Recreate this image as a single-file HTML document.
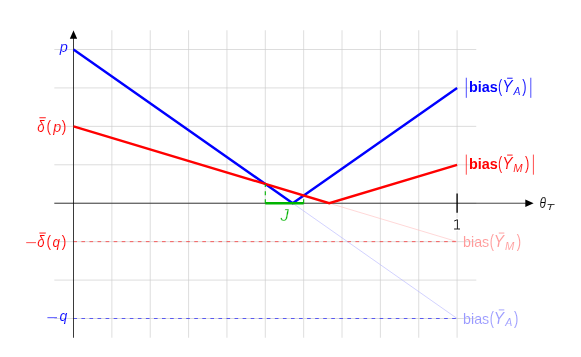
<!DOCTYPE html>
<html><head><meta charset="utf-8"><title>bias plot</title>
<style>
html,body{margin:0;padding:0;background:#fff;}
body{width:581px;height:357px;overflow:hidden;font-family:"Liberation Sans",sans-serif;}
svg{display:block;will-change:transform;transform:translateZ(0);}
text{font-family:"Liberation Sans",sans-serif;}
.it{font-style:italic;}
.b{font-weight:bold;}
</style></head><body>
<svg width="581" height="357" viewBox="0 0 581 357">
<rect width="581" height="357" fill="#ffffff"/>
<path d="M73.5 30.28V337.73M111.86 30.28V337.73M150.22 30.28V337.73M188.58 30.28V337.73M226.94 30.28V337.73M265.3 30.28V337.73M303.66 30.28V337.73M342.02 30.28V337.73M380.38 30.28V337.73M418.74 30.28V337.73M457.1 30.28V337.73M54.32 318.51H476.28M54.32 280.08H476.28M54.32 241.65H476.28M54.32 203.22H476.28M54.32 164.79H476.28M54.32 126.36H476.28M54.32 87.93H476.28M54.32 49.5H476.28" stroke="#cdcdcd" stroke-width="0.68" fill="none"/>
<path d="M329.23 203.22L457.1 241.65" stroke="#ffbdbd" stroke-width="0.6" fill="none"/>
<path d="M292.7 203.22L457.1 318.51" stroke="#b3b3ff" stroke-width="0.6" fill="none"/>
<path d="M73.35 241.65H457.1" stroke="#ff0000" stroke-width="0.6" stroke-dasharray="3.65 4.41" fill="none"/>
<path d="M73.35 318.51H457.1" stroke="#0000ff" stroke-width="0.6" stroke-dasharray="3.65 4.41" fill="none"/>
<path d="M54.32 203.22H527.82M73.5 337.73V36.28" stroke="#000" stroke-width="0.74" fill="none"/>
<path d="M533.62 203.22l-8.3 -3.7v7.4z M73.5 30.38l-3.7 8.3h7.4z" fill="#000"/>
<path d="M457.1 193.61V212.83" stroke="#000" stroke-width="1.35" fill="none"/>
<path d="M73.5 49.5L292.7 203.22L457.1 87.93" stroke="#0000ff" stroke-width="2.4" stroke-linejoin="round" fill="none"/>
<path d="M73.5 126.36L329.23 203.22L457.1 164.79" stroke="#ff0000" stroke-width="2.4" stroke-linejoin="miter" fill="none"/>
<path d="M265.3 203.22V184.0M303.66 203.22V195.53" stroke="#00b300" stroke-width="1.1" stroke-dasharray="4.03 4.03" fill="none"/>
<path d="M265.3 203.22H303.66" stroke="#00b300" stroke-width="2.4" fill="none"/>
<text class="it" transform="translate(59.66 51.78) scale(1.013 1)" font-size="14.36" fill="#0000ff" stroke="#fff" stroke-width="0.12">p</text>
<text class="it" transform="translate(37.34 131.95) scale(0.818 1)" font-size="16.15" fill="#ff0000" stroke="#fff" stroke-width="0.12">δ</text>
<path d="M39.40 117.76L45.80 117.76" stroke="#ff0000" stroke-width="0.9" fill="none"/>
<text transform="translate(46.38 131.80) scale(0.779 1)" font-size="17.43" fill="#ff0000" stroke="#fff" stroke-width="0.12">(</text>
<text class="it" transform="translate(53.26 131.92) scale(0.991 1)" font-size="14.50" fill="#ff0000" stroke="#fff" stroke-width="0.12">p</text>
<text transform="translate(61.86 131.80) scale(0.794 1)" font-size="17.43" fill="#ff0000" stroke="#fff" stroke-width="0.12">)</text>
<text class="it" transform="translate(37.34 247.24) scale(0.818 1)" font-size="16.15" fill="#ff0000" stroke="#fff" stroke-width="0.12">δ</text>
<path d="M39.40 233.05L45.80 233.05" stroke="#ff0000" stroke-width="0.9" fill="none"/>
<text transform="translate(46.38 247.09) scale(0.779 1)" font-size="17.43" fill="#ff0000" stroke="#fff" stroke-width="0.12">(</text>
<text class="it" transform="translate(52.53 247.20) scale(0.922 1)" font-size="14.53" fill="#ff0000" stroke="#fff" stroke-width="0.12">q</text>
<text transform="translate(61.86 247.09) scale(0.794 1)" font-size="17.43" fill="#ff0000" stroke="#fff" stroke-width="0.12">)</text>
<path d="M26.20 242.65L36.00 242.65" stroke="#ff0000" stroke-width="0.7" fill="none"/>
<path d="M47.40 317.70L57.00 317.70" stroke="#0000ff" stroke-width="0.7" fill="none"/>
<text class="it" transform="translate(59.61 321.45) scale(0.962 1)" font-size="14.53" fill="#0000ff" stroke="#fff" stroke-width="0.12">q</text>
<text class="it" transform="translate(280.50 220.83) scale(1.007 1)" font-size="16.71" fill="#00b300" stroke="#fff" stroke-width="0.3">J</text>
<rect x="452.5" y="218.2" width="9" height="12.8" fill="#fff"/>
<path d="M454.2 221.0L457.4 219.7V229.0M454.1 229.0H460.0" stroke="#1a1a1a" stroke-width="1.0" fill="none" stroke-linejoin="miter"/>
<text class="it" transform="translate(539.40 207.86) scale(0.827 1)" font-size="14.46" fill="#000" stroke="#fff" stroke-width="0.15">θ</text>
<text class="it" transform="translate(546.25 210.00) scale(1.314 1)" font-size="9.71" fill="#000" stroke="#fff" stroke-width="0.15">T</text>
<path d="M466.30 77.73L466.30 97.83" stroke="#0000ff" stroke-width="0.7" fill="none"/>
<text class="b" transform="translate(468.96 91.93) scale(0.933 1)" font-size="15.44" fill="#0000ff" stroke="#fff" stroke-width="0">bias</text>
<text transform="translate(498.05 92.42) scale(0.706 1)" font-size="17.65" fill="#0000ff" stroke="#fff" stroke-width="0.12">(</text>
<text class="it" transform="translate(502.17 91.93) scale(0.989 1)" font-size="15.65" fill="#0000ff" stroke="#fff" stroke-width="0.12">Y</text>
<path d="M507.10 78.23L512.60 78.23" stroke="#0000ff" stroke-width="0.9" fill="none"/>
<text class="it" transform="translate(513.57 94.73) scale(0.988 1)" font-size="10.66" fill="#0000ff" stroke="#fff" stroke-width="0.08">A</text>
<text transform="translate(522.37 92.42) scale(0.741 1)" font-size="17.65" fill="#0000ff" stroke="#fff" stroke-width="0.12">)</text>
<path d="M530.80 77.73L530.80 97.83" stroke="#0000ff" stroke-width="0.7" fill="none"/>
<path d="M466.30 154.59L466.30 174.69" stroke="#ff0000" stroke-width="0.7" fill="none"/>
<text class="b" transform="translate(468.96 168.79) scale(0.933 1)" font-size="15.44" fill="#ff0000" stroke="#fff" stroke-width="0">bias</text>
<text transform="translate(498.05 169.28) scale(0.706 1)" font-size="17.65" fill="#ff0000" stroke="#fff" stroke-width="0.12">(</text>
<text class="it" transform="translate(502.17 168.79) scale(0.989 1)" font-size="15.65" fill="#ff0000" stroke="#fff" stroke-width="0.12">Y</text>
<path d="M507.10 155.09L512.60 155.09" stroke="#ff0000" stroke-width="0.9" fill="none"/>
<text class="it" transform="translate(513.36 171.59) scale(1.057 1)" font-size="10.58" fill="#ff0000" stroke="#fff" stroke-width="0.08">M</text>
<text transform="translate(524.97 169.28) scale(0.741 1)" font-size="17.65" fill="#ff0000" stroke="#fff" stroke-width="0.12">)</text>
<path d="M533.40 154.59L533.40 174.69" stroke="#ff0000" stroke-width="0.7" fill="none"/>
<text transform="translate(463.07 246.75) scale(0.930 1)" font-size="15.31" fill="#ff9999" stroke="#fff" stroke-width="0.12">bias</text>
<text transform="translate(489.75 247.24) scale(0.706 1)" font-size="17.65" fill="#ff9999" stroke="#fff" stroke-width="0.12">(</text>
<text class="it" transform="translate(493.87 246.75) scale(0.989 1)" font-size="15.65" fill="#ff9999" stroke="#fff" stroke-width="0.12">Y</text>
<path d="M498.80 233.05L504.30 233.05" stroke="#ff9999" stroke-width="0.9" fill="none"/>
<text class="it" transform="translate(505.06 249.55) scale(1.057 1)" font-size="10.58" fill="#ff9999" stroke="#fff" stroke-width="0.08">M</text>
<text transform="translate(516.67 247.24) scale(0.741 1)" font-size="17.65" fill="#ff9999" stroke="#fff" stroke-width="0.12">)</text>
<text transform="translate(463.07 323.61) scale(0.930 1)" font-size="15.31" fill="#9999ff" stroke="#fff" stroke-width="0.12">bias</text>
<text transform="translate(489.75 324.10) scale(0.706 1)" font-size="17.65" fill="#9999ff" stroke="#fff" stroke-width="0.12">(</text>
<text class="it" transform="translate(493.87 323.61) scale(0.989 1)" font-size="15.65" fill="#9999ff" stroke="#fff" stroke-width="0.12">Y</text>
<path d="M498.80 309.91L504.30 309.91" stroke="#9999ff" stroke-width="0.9" fill="none"/>
<text class="it" transform="translate(505.27 326.41) scale(0.988 1)" font-size="10.66" fill="#9999ff" stroke="#fff" stroke-width="0.08">A</text>
<text transform="translate(514.07 324.10) scale(0.741 1)" font-size="17.65" fill="#9999ff" stroke="#fff" stroke-width="0.12">)</text>
</svg>
</body></html>
